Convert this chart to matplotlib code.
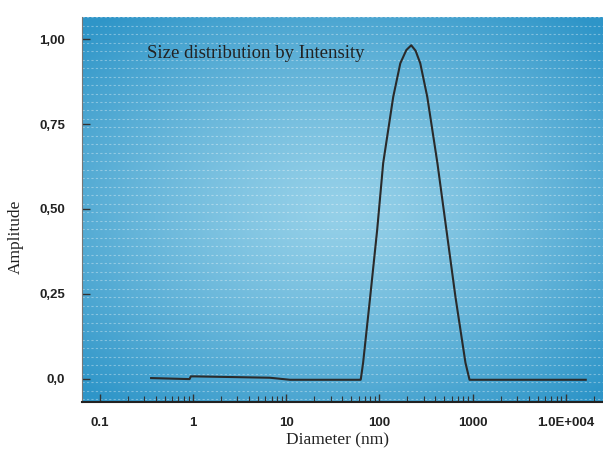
import numpy as np
import matplotlib.pyplot as plt
from matplotlib.ticker import FixedLocator, NullFormatter

# size distribution by intensity
diameter_nm = [0.356, 0.92, 0.95, 1.04, 6.7, 11.0, 63.0, 63.4, 67.0, 79.8, 94.8, 110.0,
               141.0, 168.0, 195.0, 220.0, 245.0, 275.0, 327.0, 420.0, 525.0, 656.0,
               840.0, 929.0, 16400.0]
amplitude = [0.002, -0.001, 0.007, 0.007, 0.003, -0.003, -0.003, 0.0, 0.047, 0.241,
             0.438, 0.635, 0.830, 0.929, 0.968, 0.982, 0.966, 0.929, 0.830, 0.635,
             0.438, 0.241, 0.047, -0.003, -0.003]

x_ticks = [0.1, 1, 10, 100, 1000, 10000]
x_tick_labels = ["0.1", "1", "10", "100", "1000", "1.0E+004"]
y_ticks = [0.0, 0.25, 0.5, 0.75, 1.0]
y_tick_labels = ["0,0", "0,25", "0,50", "0,75", "1,00"]

fig = plt.figure(figsize=(6.03, 4.5), dpi=100)
ax = fig.add_axes([0.136, 0.107, 0.864, 0.855])

# blue background, lighter in the middle
gx, gy = np.meshgrid(np.linspace(-1, 1, 300), np.linspace(-1, 1, 300))
r = np.clip(np.sqrt((gx * 0.9) ** 2 + (gy * 1.0) ** 2), 0, 1.3) / 1.3
c_in = np.array([0x95, 0xd0, 0xe8]) / 255
c_out = np.array([0x2e, 0x95, 0xc8]) / 255
img = c_in[None, None, :] * (1 - r[..., None] ** 1.3) + c_out[None, None, :] * r[..., None] ** 1.3
ax.imshow(img, extent=[0, 1, 0, 1], transform=ax.transAxes, aspect='auto', zorder=0)

# faint horizontal scan lines
for yy in np.arange(-0.06, 1.07, 0.025):
    ax.axhline(yy, color='white', lw=0.8, ls=(0, (2, 2)), alpha=0.35, zorder=1)

ax.plot(diameter_nm, amplitude, color='#2a2a2a', lw=1.5, zorder=3)

ax.set_xscale('log')
ax.set_xlim(10 ** -1.19, 10 ** 4.4)
ax.set_ylim(-0.068, 1.065)

ax.xaxis.set_major_locator(FixedLocator(x_ticks))
ax.set_xticklabels(x_tick_labels)
ax.xaxis.set_minor_locator(FixedLocator(
    [m * 10.0 ** e for e in range(-1, 5) for m in range(2, 10)]))
ax.xaxis.set_minor_formatter(NullFormatter())
ax.set_yticks(y_ticks)
ax.set_yticklabels(y_tick_labels)

ax.tick_params(axis='x', which='major', direction='in', length=6, width=1, pad=11,
               labelsize=9.5, labelcolor='#222222', color='#333333')
ax.tick_params(axis='x', which='minor', direction='in', length=4, width=0.8, color='#333333')
ax.tick_params(axis='y', direction='in', length=6, width=1, pad=12,
               labelsize=9.5, labelcolor='#222222', color='#333333')
for lab in ax.get_xticklabels() + ax.get_yticklabels():
    lab.set_fontfamily('Liberation Sans')
    lab.set_fontweight('bold')

for side in ['top', 'right']:
    ax.spines[side].set_visible(False)
ax.spines['left'].set_color('#777777')
ax.spines['bottom'].set_color('#222222')
ax.spines['bottom'].set_linewidth(1.5)

ax.text(0.125, 0.905, "Size distribution by Intensity", transform=ax.transAxes,
        fontfamily='Liberation Serif', fontsize=13.5, color='#222222', va='center')
fig.text(0.026, 0.473, "Amplitude", rotation=90, fontfamily='Liberation Serif',
         fontsize=12.5, color='#222222', ha='center', va='center')
fig.text(0.56, 0.022, "Diameter (nm)", fontfamily='Liberation Serif',
         fontsize=12.5, color='#222222', ha='center', va='center')

plt.savefig("out.png", dpi=100)
